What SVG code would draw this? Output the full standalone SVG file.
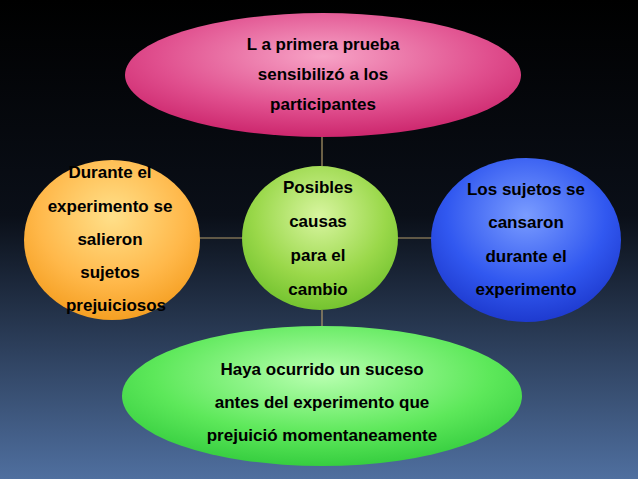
<svg xmlns="http://www.w3.org/2000/svg" width="638" height="479" viewBox="0 0 638 479">
<defs>
<linearGradient id="bg" x1="0" y1="0" x2="0" y2="1"><stop offset="0" stop-color="#000"/><stop offset="0.45" stop-color="#0a0f18"/><stop offset="1" stop-color="#4f6f9f"/></linearGradient>
<radialGradient id="pink" cx="0.5" cy="0.35" r="0.7"><stop offset="0" stop-color="#f7a3c6"/><stop offset="0.6" stop-color="#e04f8e"/><stop offset="1" stop-color="#c81e66"/></radialGradient>
<radialGradient id="orange" cx="0.5" cy="0.35" r="0.7"><stop offset="0" stop-color="#ffe08a"/><stop offset="0.6" stop-color="#ffb84a"/><stop offset="1" stop-color="#f39a1a"/></radialGradient>
<radialGradient id="green" cx="0.5" cy="0.35" r="0.7"><stop offset="0" stop-color="#d8f5a0"/><stop offset="0.6" stop-color="#9ad84a"/><stop offset="1" stop-color="#6cbf2a"/></radialGradient>
<radialGradient id="blue" cx="0.5" cy="0.35" r="0.7"><stop offset="0" stop-color="#7a9cff"/><stop offset="0.6" stop-color="#3158f0"/><stop offset="1" stop-color="#1a34c8"/></radialGradient>
<radialGradient id="lgreen" cx="0.5" cy="0.35" r="0.7"><stop offset="0" stop-color="#b8ffb0"/><stop offset="0.6" stop-color="#5de85a"/><stop offset="1" stop-color="#2ec83a"/></radialGradient>
</defs>
<style>
text{font-family:"Liberation Sans",Arial,sans-serif;font-weight:bold;font-size:17px;fill:#000;text-anchor:middle}
.c line{stroke:#b09a6a;stroke-width:1.2}
</style>
<rect width="638" height="479" fill="url(#bg)"/>
<g class="c">
<line x1="322" y1="136" x2="322" y2="166"/>
<line x1="198" y1="238" x2="242" y2="238"/>
<line x1="398" y1="238" x2="432" y2="238"/>
<line x1="322" y1="310" x2="322" y2="326"/>
</g>
<g id="top"><ellipse cx="323" cy="75" rx="198" ry="62" fill="url(#pink)"/>
<text x="323" y="50">L a primera prueba</text><text x="323" y="80">sensibilizó a los</text><text x="323" y="110">participantes</text></g>
<g id="left"><ellipse cx="112" cy="240" rx="88" ry="80" fill="url(#orange)"/>
<text x="110" y="178">Durante el</text><text x="110" y="212">experimento se</text><text x="110" y="245">salieron</text><text x="110" y="278">sujetos</text><text x="116" y="311">prejuiciosos</text></g>
<g id="center"><ellipse cx="320" cy="238" rx="78" ry="72" fill="url(#green)"/>
<text x="318" y="193">Posibles</text><text x="318" y="227">causas</text><text x="318" y="261">para el</text><text x="318" y="295">cambio</text></g>
<g id="right"><ellipse cx="526" cy="240" rx="95" ry="82" fill="url(#blue)"/>
<text x="526" y="195">Los sujetos se</text><text x="526" y="228">cansaron</text><text x="526" y="262">durante el</text><text x="526" y="295">experimento</text></g>
<g id="bottom"><ellipse cx="322" cy="396" rx="200" ry="70" fill="url(#lgreen)"/>
<text x="322" y="375">Haya  ocurrido un suceso</text><text x="322" y="408">antes del experimento  que</text><text x="322" y="441">prejuició momentaneamente</text></g>
</svg>
